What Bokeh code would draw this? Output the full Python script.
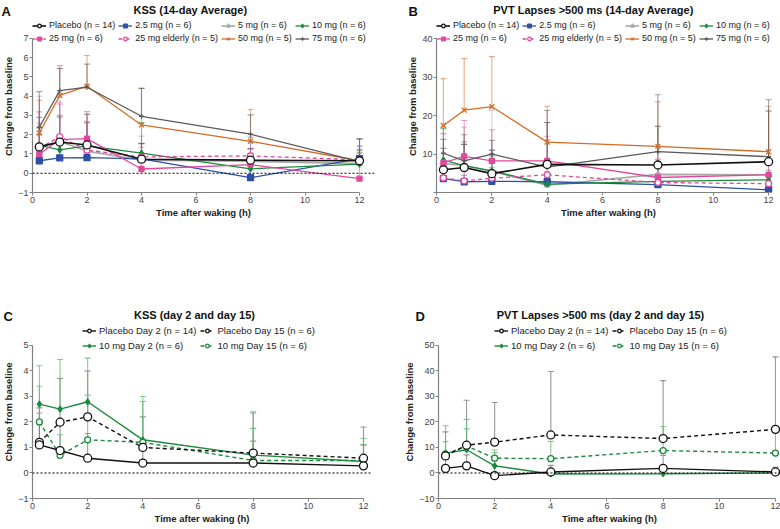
from bokeh.plotting import figure
from bokeh.models import Range1d, Legend, LegendItem, Span
from bokeh.layouts import column, row
from bokeh.core.properties import value
from bokeh.embed import file_html
from bokeh.resources import INLINE

# ---------------- data ----------------
times = [0.25, 1, 2, 4, 8, 12]
x_ticks = [0, 2, 4, 6, 8, 10, 12]

groups_ab = ["Placebo (n = 14)", "2.5 mg (n = 6)", "5 mg (n = 6)", "10 mg (n = 6)",
             "25 mg (n = 6)", "25 mg elderly (n = 5)", "50 mg (n = 5)", "75 mg (n = 6)"]

# Panel A: KSS (14-day average) - mean and upper SD
kss_placebo = [1.37, 1.62, 1.47, 0.73, 0.68, 0.65]
kss_2_5 = [0.65, 0.80, 0.81, 0.75, -0.23, 0.76]
kss_5 = [1.40, 1.65, 1.15, 0.68, 0.62, 0.50]
kss_10 = [1.45, 1.21, 1.42, 1.04, 0.23, 0.47]
kss_25 = [0.99, 1.75, 1.80, 0.22, 0.45, -0.28]
kss_25e = [1.30, 1.90, 1.20, 0.85, 0.90, 0.70]
kss_50 = [2.09, 4.04, 4.52, 2.51, 1.66, 0.65]
kss_75 = [2.39, 4.29, 4.47, 2.96, 2.03, 0.60]
kss_placebo_sd = [0.65, 1.30, 1.15, 0.80, 0.60, 0.40]
kss_2_5_sd = [2.25, 1.10, 0.90, 0.80, 2.10, 0.65]
kss_5_sd = [2.60, 3.80, 1.90, 1.25, 0.60, 1.30]
kss_10_sd = [0.90, 1.80, 1.65, 1.60, 0.80, 0.70]
kss_25_sd = [2.20, 1.85, 1.40, 0.70, 0.50, 1.50]
kss_25e_sd = [1.30, 1.80, 1.50, 0.50, 0.40, 0.55]
kss_50_sd = [1.70, 1.55, 1.60, 1.90, 1.65, 1.10]
kss_75_sd = [1.85, 1.15, 1.20, 1.45, 1.00, 1.20]

# Panel B: PVT lapses >500 ms (14-day average)
pvt_placebo = [5.9, 6.5, 4.9, 7.3, 7.15, 8.0]
pvt_2_5 = [3.6, 2.8, 2.9, 2.8, 2.05, 0.7]
pvt_5 = [7.5, 7.0, 5.5, 1.9, 4.7, 4.6]
pvt_10 = [8.4, 7.0, 5.6, 2.2, 2.9, 3.3]
pvt_25 = [7.7, 9.4, 8.2, 8.2, 3.9, 4.6]
pvt_25e = [3.8, 3.0, 3.7, 4.6, 2.6, 2.3]
pvt_50 = [17.4, 21.4, 22.3, 13.1, 12.0, 10.6]
pvt_75 = [10.2, 8.2, 10.0, 6.6, 10.6, 9.3]
pvt_placebo_sd = [5.6, 6.0, 6.1, 10.9, 10.05, 13.2]
pvt_2_5_sd = [1.9, 1.7, 2.1, 2.0, 1.95, 1.3]
pvt_5_sd = [9.5, 10.0, 15.8, 3.6, 3.8, 3.9]
pvt_10_sd = [8.2, 6.2, 3.9, 2.3, 3.6, 2.5]
pvt_25_sd = [7.6, 9.3, 8.1, 6.4, 4.8, 2.6]
pvt_25e_sd = [2.2, 2.5, 2.8, 3.9, 2.4, 2.2]
pvt_50_sd = [12.2, 13.4, 13.0, 9.3, 11.6, 11.8]
pvt_75_sd = [3.6, 6.8, 3.5, 14.7, 14.8, 14.8]

groups_cd = ["Placebo Day 2 (n = 14)", "Placebo Day 15 (n = 6)",
             "10 mg Day 2 (n = 6)", "10 mg Day 15 (n = 6)"]

# Panel C: KSS day 2 and day 15
kss_pl_d2 = [1.10, 0.88, 0.58, 0.39, 0.39, 0.28]
kss_pl_d15 = [1.20, 1.99, 2.20, 1.00, 0.78, 0.58]
kss_10_d2 = [2.70, 2.50, 2.79, 1.30, 0.70, 0.45]
kss_10_d15 = [2.00, 0.69, 1.30, 1.20, 0.49, 0.49]
kss_pl_d2_sd = [1.25, 1.12, 0.97, 0.86, 0.86, 0.82]
kss_pl_d15_sd = [1.35, 1.71, 1.80, 1.20, 1.57, 1.22]
kss_10_d2_sd = [1.50, 1.95, 1.71, 1.70, 1.70, 0.90]
kss_10_d15_sd = [1.40, 0.81, 1.75, 1.60, 1.26, 0.61]

# Panel D: PVT lapses day 2 and day 15
pvt_pl_d2 = [1.8, 2.8, -1.05, 0.4, 1.8, 0.4]
pvt_pl_d15 = [6.7, 10.9, 12.1, 14.9, 13.5, 17.1]
pvt_10_d2 = [7.8, 9.1, 2.8, -0.4, -0.3, 0.0]
pvt_10_d15 = [7.4, 10.6, 5.8, 5.6, 8.8, 7.8]
pvt_pl_d2_sd = [3.5, 4.3, 4.0, 2.6, 5.1, 1.8]
pvt_pl_d15_sd = [9.4, 17.6, 15.5, 24.9, 22.7, 28.4]
pvt_10_d2_sd = [10.7, 11.9, 6.2, 0.9, 1.3, 1.0]
pvt_10_d15_sd = [4.9, 6.7, 2.2, 6.8, 9.4, 8.2]

# ---------------- styles ----------------
FONT = "Liberation Sans"
BLACK = "#111111"
BLUE = "#2E4FA6"
LGRAY = "#A8A8A8"
GREEN = "#1C8A3C"
PINK = "#E0489D"
ORANGE = "#D46B24"
DGRAY = "#5A5A5A"

styles_ab = [
    dict(color=BLACK, marker="circle", size=8, fill="white", dash="solid", lw=1.6),
    dict(color=BLUE, marker="square", size=6, fill=BLUE, dash="solid", lw=1.3),
    dict(color=LGRAY, marker="triangle", size=6, fill=LGRAY, dash="solid", lw=1.6),
    dict(color=GREEN, marker="diamond", size=6, fill=GREEN, dash="solid", lw=1.3),
    dict(color=PINK, marker="square", size=5, fill=PINK, dash="solid", lw=1.3),
    dict(color=PINK, marker="circle", size=6, fill="white", dash="4 3", lw=1.3),
    dict(color=ORANGE, marker="x", size=7, fill=ORANGE, dash="solid", lw=1.3),
    dict(color=DGRAY, marker="cross", size=5, fill=DGRAY, dash="solid", lw=1.3),
]
styles_cd = [
    dict(color=BLACK, marker="circle", size=8, fill="white", dash="solid", lw=1.4, ecolor="#777777"),
    dict(color=BLACK, marker="circle", size=8, fill="white", dash="4 3", lw=1.4, ecolor="#777777"),
    dict(color=GREEN, marker="diamond", size=6, fill=GREEN, dash="solid", lw=1.4, ecolor="#62B774"),
    dict(color=GREEN, marker="circle", size=6, fill="white", dash="4 3", lw=1.4, ecolor="#62B774"),
]


def make_header(width, height, letter, letter_x, title, title_x, top):
    h = figure(width=width, height=height, x_range=Range1d(0, width), y_range=Range1d(0, height),
               output_backend="svg", toolbar_location=None, x_axis_type=None, y_axis_type=None,
               min_border=0)
    h.grid.visible = False
    h.outline_line_color = None
    h.text(x=[letter_x], y=[height - top], text=[letter], text_font=value(FONT),
           text_font_size=value("13px"), text_font_style=value("bold"),
           text_baseline="top", text_align="left", text_color="#111111")
    h.text(x=[title_x], y=[height - top], text=[title], text_font=value(FONT),
           text_font_size=value("11px"), text_font_style=value("bold"),
           text_baseline="top", text_align="center", text_color="#111111")
    return h


def make_panel(width, height, x_end, yr, ybounds, yticks, borders, zero=True, hide0=False):
    left, right, top, bottom = borders
    p = figure(width=width, height=height, x_range=Range1d(0, x_end), y_range=Range1d(*yr),
               output_backend="svg", toolbar_location=None,
               min_border_left=left, min_border_right=right,
               min_border_top=top, min_border_bottom=bottom)
    p.xgrid.visible = False
    p.ygrid.visible = False
    p.outline_line_color = None
    p.xaxis.ticker = x_ticks
    p.xaxis.bounds = (0, 12)
    p.yaxis.ticker = yticks
    p.yaxis.bounds = ybounds
    if hide0:
        p.yaxis.major_label_overrides = {0: ""}
    p.xaxis.axis_label = "Time after waking (h)"
    p.yaxis.axis_label = "Change from baseline"
    for ax in (p.xaxis, p.yaxis):
        ax.axis_line_color = "#808080"
        ax.axis_line_width = 1.2
        ax.major_tick_line_color = "#808080"
        ax.major_tick_out = 3
        ax.major_tick_in = 0
        ax.minor_tick_line_color = None
        ax.major_label_text_font = FONT
        ax.major_label_text_font_size = "9px"
        ax.major_label_text_color = "#444444"
        ax.major_label_standoff = 1
        ax.axis_label_text_font = FONT
        ax.axis_label_text_font_size = "9.5px"
        ax.axis_label_text_font_style = "bold"
        ax.axis_label_text_color = "#222222"
        ax.axis_label_standoff = 1
    if zero:
        p.add_layout(Span(location=0, dimension="width", line_color="black",
                          line_dash="2 2", line_width=1.2))
    return p


def add_series(p, names, means, sds, styles, ncols, loc, spacing, fsize, draw_order):
    # upper SD error bars first (behind the lines)
    for y, e, st in zip(means, sds, styles):
        top = [a + b for a, b in zip(y, e)]
        ec = st.get("ecolor", st["color"])
        ea = 0.75 if "ecolor" in st else 0.55
        p.segment(x0=times, y0=y, x1=times, y1=top, line_color=ec, line_alpha=ea, line_width=1.1)
        p.scatter(x=times, y=top, marker="dash", size=6, line_color=ec, line_alpha=ea, line_width=1.1)
    rends = {}
    for i in draw_order:
        y, st = means[i], styles[i]
        r1 = p.line(times, y, line_color=st["color"], line_width=st["lw"], line_dash=st["dash"])
        r2 = p.scatter(times, y, marker=st["marker"], size=st["size"], line_color=st["color"],
                       fill_color=st["fill"], line_width=1.3)
        rends[i] = (r1, r2)
    items = [LegendItem(label=names[i], renderers=list(rends[i])) for i in range(len(names))]
    leg = Legend(items=items, orientation="horizontal", ncols=ncols, location=loc,
                 margin=0, padding=0, spacing=spacing, border_line_color=None,
                 background_fill_alpha=0, label_text_font=FONT, label_text_font_size=fsize,
                 label_text_color="#222222", glyph_width=14, glyph_height=9,
                 label_height=9, label_standoff=3)
    p.add_layout(leg)


order_ab = [2, 1, 3, 4, 5, 6, 7, 0]
order_cd = [2, 3, 1, 0]

# ---------- row 1 ----------
ha = make_header(390, 18, "A", 1, "KSS (14-day Average)", 190, 3)
hb = make_header(390, 18, "B", 18, "PVT Lapses >500 ms (14-day Average)", 203, 3)

pa = make_panel(390, 210, 12.55, (-1, 7.935), (-1, 7), list(range(-1, 8)), (26, 16, 2, 36))
add_series(pa, groups_ab,
           [kss_placebo, kss_2_5, kss_5, kss_10, kss_25, kss_25e, kss_50, kss_75],
           [kss_placebo_sd, kss_2_5_sd, kss_5_sd, kss_10_sd, kss_25_sd, kss_25e_sd, kss_50_sd, kss_75_sd],
           styles_ab, 4, "top_left", 3, "9px", order_ab)

pb = make_panel(390, 210, 12.43, (0, 44.7), (0, 40), [0, 10, 20, 30, 40], (46, 0, 2, 36),
                zero=False, hide0=True)
add_series(pb, groups_ab,
           [pvt_placebo, pvt_2_5, pvt_5, pvt_10, pvt_25, pvt_25e, pvt_50, pvt_75],
           [pvt_placebo_sd, pvt_2_5_sd, pvt_5_sd, pvt_10_sd, pvt_25_sd, pvt_25e_sd, pvt_50_sd, pvt_75_sd],
           styles_ab, 4, "top_left", 3, "9px", order_ab)

# ---------- row 2 ----------
hc = make_header(390, 95, "C", 3, "KSS (day 2 and day 15)", 194, 80)
hd = make_header(390, 95, "D", 25, "PVT Lapses >500 ms (day 2 and day 15)", 210, 80)

pc = make_panel(390, 205, 12.29, (-1, 5.78), (-1, 5), list(range(-1, 6)), (24, 19, 2, 30))
add_series(pc, groups_cd, [kss_pl_d2, kss_pl_d15, kss_10_d2, kss_10_d15],
           [kss_pl_d2_sd, kss_pl_d15_sd, kss_10_d2_sd, kss_10_d15_sd], styles_cd, 2,
           (50, 147), 4, "9.5px", order_cd)

pd_ = make_panel(390, 205, 12.18, (-10, 57.8), (-10, 50), list(range(-10, 60, 10)), (48, 0, 2, 30))
add_series(pd_, groups_cd, [pvt_pl_d2, pvt_pl_d15, pvt_10_d2, pvt_10_d15],
           [pvt_pl_d2_sd, pvt_pl_d15_sd, pvt_10_d2_sd, pvt_10_d15_sd], styles_cd, 2,
           (56, 147), 4, "9.5px", order_cd)

layout = column(row(ha, hb), row(pa, pb), row(hc, hd), row(pc, pd_))

open("out.html", "w").write(file_html(layout, INLINE))
